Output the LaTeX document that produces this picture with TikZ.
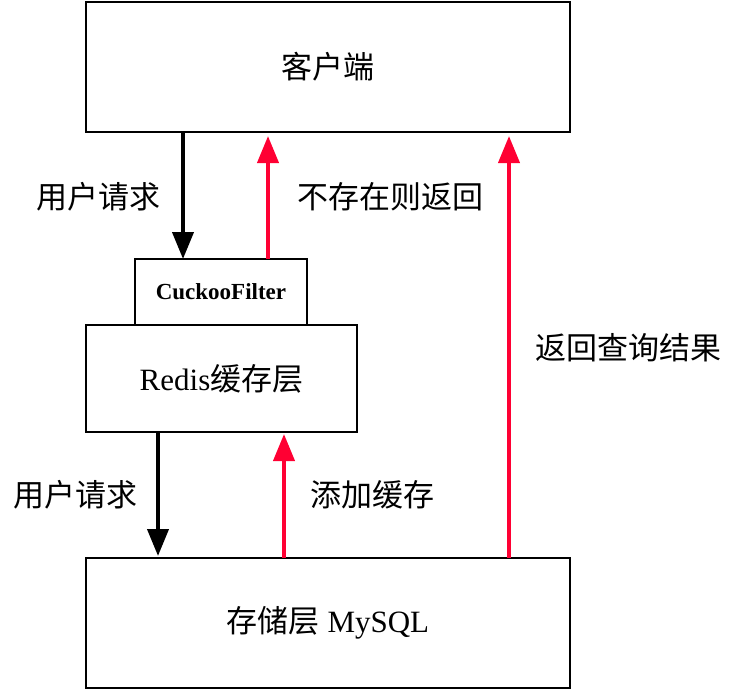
\documentclass[tikz,border=0pt]{standalone}
\usepackage{fontspec}
\setmainfont{Liberation Serif}
\newfontfamily\cjk{Noto Sans CJK SC}
\usetikzlibrary{arrows.meta}
\definecolor{backred}{RGB}{255,0,51}

\begin{document}
\begin{tikzpicture}[x=1pt, y=-1pt, >={Triangle[length=27pt,width=21pt]},
  box/.style={draw, line width=2pt, inner sep=0pt, outer sep=0pt, font=\fontsize{31}{34}\selectfont},
  lbl/.style={font=\fontsize{31}{34}\selectfont\cjk},
  req/.style={->, line width=4pt, black},
  back/.style={->, line width=4pt, backred}]
\useasboundingbox (0,0) rectangle (736,690);
% boxes
\node[box, minimum width=484pt, minimum height=130pt] (client) at (328,67) {\cjk 客户端};
\node[box, minimum width=172pt, minimum height=66pt, font=\fontsize{23}{26}\selectfont\bfseries] (filter) at (221,292) {CuckooFilter};
\node[box, minimum width=271pt, minimum height=107pt] (redis) at (221.5,378.5) {Redis{\cjk 缓存层}};
\node[box, minimum width=484pt, minimum height=130pt] (mysql) at (328,623) {{\cjk 存储层} MySQL};
% arrow columns
\coordinate (c1) at (183,0);
\coordinate (c2) at (268,0);
\coordinate (c3) at (509,0);
\coordinate (c4) at (158,0);
\coordinate (c5) at (284,0);
\draw[req] (client.south -| c1) -- (filter.north -| c1);
\draw[back, shorten >=4pt] (filter.north -| c2) -- (client.south -| c2);
\draw[back, shorten >=4pt] (mysql.north -| c3) -- (client.south -| c3);
\draw[req, shorten >=2pt] (redis.south -| c4) -- (mysql.north -| c4);
\draw[back, shorten >=2pt] (mysql.north -| c5) -- (redis.south -| c5);
% labels
\node[lbl] (l1) at (98,197) {用户请求};
\node[lbl] (l2) at (390,197) {不存在则返回};
\node[lbl] (l3) at (628,348) {返回查询结果};
\node[lbl] (l4) at (75,495) {用户请求};
\node[lbl] (l5) at (372,495) {添加缓存};
\end{tikzpicture}
\end{document}
